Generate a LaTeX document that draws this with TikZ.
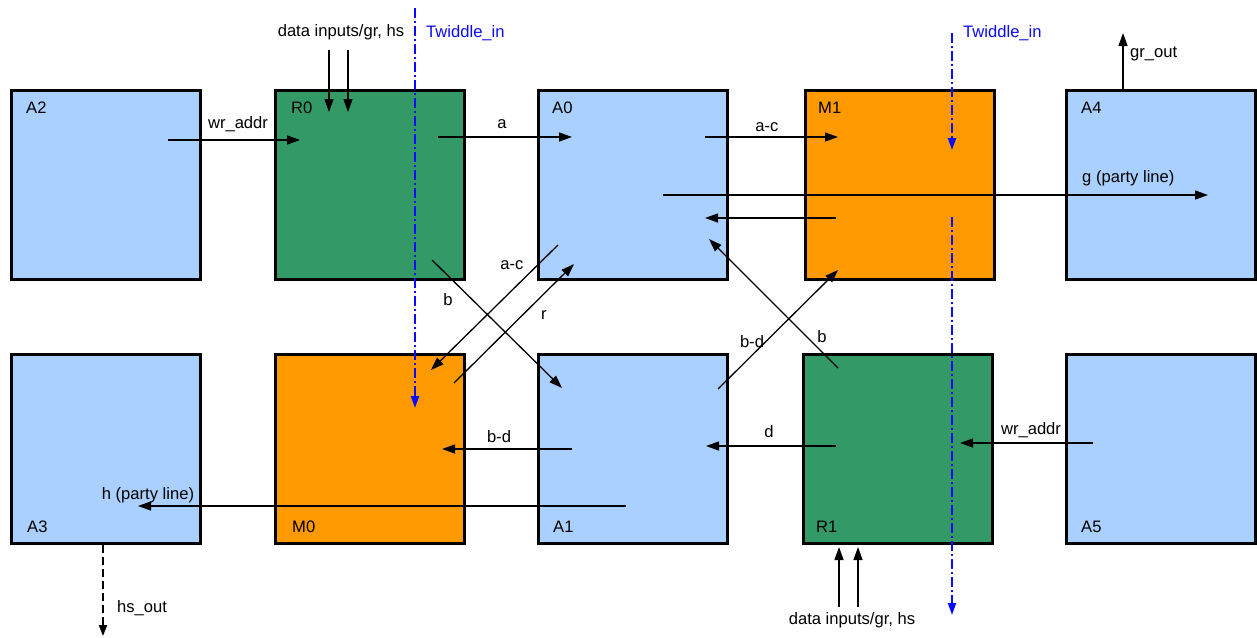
\documentclass[tikz,border=0pt]{standalone}
\usepackage{fontspec}
\setmainfont{Liberation Sans}
\usetikzlibrary{arrows.meta}
\definecolor{abox}{RGB}{170,208,255}
\definecolor{rbox}{RGB}{51,153,102}
\definecolor{mbox}{RGB}{255,153,0}
\definecolor{twblue}{RGB}{10,10,255}

\begin{document}
\begin{tikzpicture}[x=1pt,y=-1pt,
  font=\fontsize{16.6}{19}\selectfont,
  blk/.style={draw=black, line width=3pt, minimum width=189pt, minimum height=189pt, inner sep=0pt},
  ablk/.style={blk, fill=abox},
  rblk/.style={blk, fill=rbox},
  mblk/.style={blk, fill=mbox},
  tag/.style={anchor=base west, inner sep=0pt},
  lbl/.style={anchor=base, inner sep=0pt},
  flow/.style={draw=black, line width=1.3pt, -{Triangle[length=13pt,width=9pt]}},
  twiddle/.style={draw=twblue, line width=2pt, dash pattern=on 10pt off 3pt on 2pt off 3pt,
                  -{Triangle[length=12pt,width=8pt]}},
  hsdash/.style={draw=black, line width=2pt, dash pattern=on 8pt off 4pt,
                 -{Triangle[length=11pt,width=8pt]}},
  twlbl/.style={anchor=base west, inner sep=0pt, text=twblue}]

\useasboundingbox (0,0) rectangle (1257,637);

% processing blocks, top row
\node[ablk] (A2) at (106,185) {};
\node[rblk] (R0) at (370,185) {};
\node[ablk] (A0) at (633,185) {};
\node[mblk] (M1) at (900,185) {};
\node[ablk] (A4) at (1161,185) {};
% bottom row
\node[ablk] (A3) at (106,449) {};
\node[mblk] (M0) at (370,449) {};
\node[ablk] (A1) at (633,449) {};
\node[rblk] (R1) at (898,449) {};
\node[ablk] (A5) at (1161,449) {};

% block names
\node[tag] (tA2) at (26,113) {A2};
\node[tag] (tR0) at (291,113) {R0};
\node[tag] (tA0) at (552,113) {A0};
\node[tag] (tM1) at (818,113) {M1};
\node[tag] (tA4) at (1081,113) {A4};
\node[tag] (tA3) at (27,532) {A3};
\node[tag] (tM0) at (292,532) {M0};
\node[tag] (tA1) at (553,532) {A1};
\node[tag] (tR1) at (816,532) {R1};
\node[tag] (tA5) at (1081,532) {A5};

% connector end points
\coordinate (wa1s) at (168,140);  \coordinate (wa1e) at (300,140);
\coordinate (di1s) at (329,50);   \coordinate (di1e) at (329,112);
\coordinate (di2s) at (348,50);   \coordinate (di2e) at (348,112);
\coordinate (as)   at (438,137);  \coordinate (ae)   at (572,137);
\coordinate (acs)  at (705,137);  \coordinate (ace)  at (838,137);
\coordinate (gs)   at (663,195);  \coordinate (ge)   at (1208,195);
\coordinate (rts)  at (836,218);  \coordinate (rte)  at (705,218);
\coordinate (gos)  at (1123,89);  \coordinate (goe)  at (1123,33);
\coordinate (dacs) at (558,245);  \coordinate (dace) at (431,370);
\coordinate (drs)  at (454,383);  \coordinate (dre)  at (574,264);
\coordinate (dbs)  at (432,260);  \coordinate (dbe)  at (562,388);
\coordinate (dbds) at (718,389);  \coordinate (dbde) at (838,270);
\coordinate (dbrs) at (838,368);  \coordinate (dbre) at (709,239);
\coordinate (bds)  at (572,449);  \coordinate (bde)  at (442,449);
\coordinate (ds)   at (836,446);  \coordinate (de)   at (706,446);
\coordinate (wa2s) at (1093,443); \coordinate (wa2e) at (960,443);
\coordinate (hs)   at (626,506);  \coordinate (he)   at (138,506);
\coordinate (hos)  at (103,545);  \coordinate (hoe)  at (103,636);
\coordinate (di3s) at (839,607);  \coordinate (di3e) at (839,547);
\coordinate (di4s) at (858,607);  \coordinate (di4e) at (858,547);
\coordinate (tw1s) at (415,8);    \coordinate (tw1e) at (415,408);
\coordinate (tw2s) at (952,33);   \coordinate (tw2e) at (952,150);
\coordinate (tw3s) at (952,217);  \coordinate (tw3e) at (952,615);

% data paths
\draw[flow] (wa1s) -- (wa1e);
\draw[flow] (di1s) -- (di1e);
\draw[flow] (di2s) -- (di2e);
\draw[flow] (as) -- (ae);
\draw[flow] (acs) -- (ace);
\draw[flow] (gs) -- (ge);
\draw[flow] (rts) -- (rte);
\draw[flow] (gos) -- (goe);
\draw[flow] (dacs) -- (dace);
\draw[flow] (drs) -- (dre);
\draw[flow] (dbs) -- (dbe);
\draw[flow] (dbds) -- (dbde);
\draw[flow] (dbrs) -- (dbre);
\draw[flow] (bds) -- (bde);
\draw[flow] (ds) -- (de);
\draw[flow] (wa2s) -- (wa2e);
\draw[flow] (hs) -- (he);
\draw[flow] (di3s) -- (di3e);
\draw[flow] (di4s) -- (di4e);
\draw[hsdash] (hos) -- (hoe);

% twiddle factor inputs
\draw[twiddle] (tw1s) -- (tw1e);
\draw[twiddle] (tw2s) -- (tw2e);
\draw[twiddle] (tw3s) -- (tw3e);

% path labels
\node[lbl] (lwa1) at (238,128) {wr\_addr};
\node[lbl] (ldi1) at (341,36) {data inputs/gr, hs};
\node[twlbl] (ltw1) at (426,37) {Twiddle\_in};
\node[twlbl] (ltw2) at (963,37) {Twiddle\_in};
\node[lbl] (la) at (502,128) {a};
\node[lbl] (lac) at (767,131) {a-c};
\node[tag] (lgo) at (1130,57) {gr\_out};
\node[tag] (lg) at (1082,182) {g (party line)};
\node[lbl] (ldac) at (512,269) {a-c};
\node[lbl] (ldb) at (448,305) {b};
\node[lbl] (lr) at (544,319) {r};
\node[lbl] (ldbd) at (752,347) {b-d};
\node[lbl] (ldbr) at (822,342) {b};
\node[lbl] (lbd) at (499,442) {b-d};
\node[lbl] (ld) at (769,437) {d};
\node[lbl] (lwa2) at (1031,434) {wr\_addr};
\node[lbl] (lh) at (148,499) {h (party line)};
\node[tag] (lho) at (117,612) {hs\_out};
\node[lbl] (ldi2) at (852,624) {data inputs/gr, hs};
\end{tikzpicture}
\end{document}
